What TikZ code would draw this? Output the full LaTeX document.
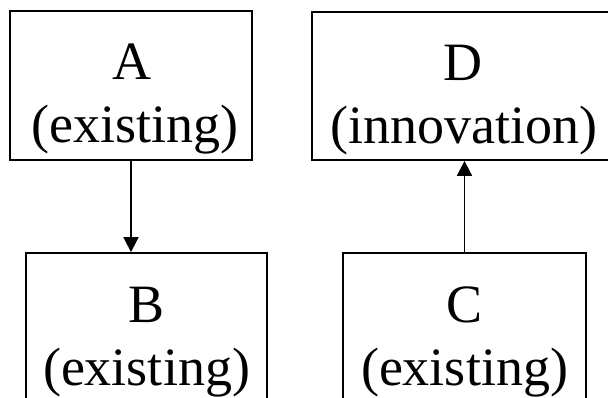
\documentclass[tikz,border=0pt]{standalone}
\usepackage{fontspec}
\setmainfont{Liberation Serif}
\usetikzlibrary{arrows.meta}
\begin{document}
\begin{tikzpicture}[x=1pt,y=-1pt,
  box/.style={draw=black, line width=1.8pt, inner sep=0pt, fill=none},
  lbl/.style={inner sep=0pt, anchor=base, font=\fontsize{54}{62}\selectfont},
  arr/.style={line width=1.8pt, -{Triangle[length=15pt,width=15pt]}}]
\useasboundingbox (0,0) rectangle (608,398);
\clip (0,0) rectangle (608,398);
\fill[white] (0,0) rectangle (608,398);
% boxes
\node[box, minimum width=242pt, minimum height=149pt] (A) at (131,85.5) {};
\node[box, minimum width=241pt, minimum height=149pt] (B) at (146.5,327.5) {};
\node[box, minimum width=243pt, minimum height=149pt] (C) at (464.5,327.5) {};
\node[box, minimum width=304pt, minimum height=148pt] (D) at (464,86) {};
% labels
\node[lbl] (A1) at (132,80) {A};
\node[lbl] (A2) at (135,143) {(existing)};
\node[lbl] (B1) at (146.5,322) {B};
\node[lbl] (B2) at (146.5,385) {(existing)};
\node[lbl] (C1) at (464.5,322) {C};
\node[lbl] (C2) at (464.5,385) {(existing)};
\node[lbl] (D1) at (463,81) {D};
\node[lbl] (D2) at (464,144) {(innovation)};
% connectors
\draw[arr] (A.south) -- (A.south |- B.north);
\draw[arr] (C.north) -- (C.north |- D.south);
\end{tikzpicture}
\end{document}
